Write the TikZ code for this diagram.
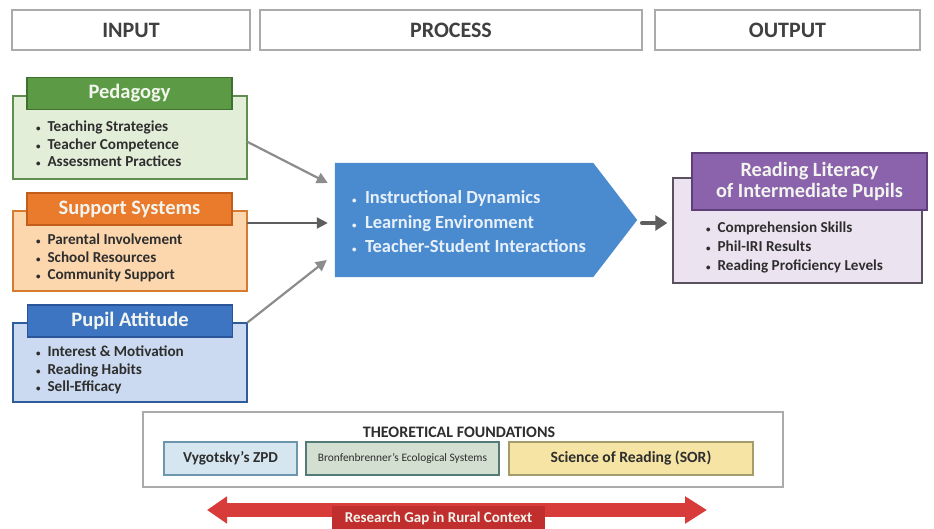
\documentclass[tikz,border=0pt]{standalone}
\usepackage{fontspec}
\setmainfont{Carlito}
\usetikzlibrary{arrows.meta}
\newcommand{\blt}{{\small\textbullet}\hspace{0.45em}}

\begin{document}
\begin{tikzpicture}
		[x=1pt,y=-1pt,line cap=round,
		%Styles
		stage box/.style={rectangle,draw=stagegray,line width=1.3pt,fill=white,minimum height=40,inner sep=0pt,font=\fontsize{22}{24}\selectfont\bfseries,text=stagetext},
		body box/.style={rectangle,line width=1.5pt,minimum width=234,inner sep=0pt},
		head box/.style={rectangle,line width=1.2pt,minimum width=205,minimum height=32,inner sep=0pt,text=headtext,font=\fontsize{20.5}{22}\selectfont\bfseries},
		item list/.style={anchor=west,align=left,inner sep=0pt,text=itemtext,font=\fontsize{15.2}{17.5}\selectfont\bfseries},
		feed arrow/.style={-{Triangle[length=11pt,width=11pt]},line width=2.2pt},
		found box/.style={rectangle,line width=1.2pt,minimum height=33,inner sep=0pt,text=itemtext,font=\fontsize{15.2}{17}\selectfont\bfseries}
		]
		
		%Colors
		\definecolor{stagegray}{HTML}{ABABAB}
		\definecolor{stagetext}{HTML}{404040}
		\definecolor{itemtext}{HTML}{2E2E2E}
		\definecolor{headtext}{HTML}{F2F5EE}
		\definecolor{feedgray}{HTML}{8C8C8C}
		\definecolor{feeddark}{HTML}{5E5E5E}
		\definecolor{pedfill}{HTML}{E3EED9}	\definecolor{peddraw}{HTML}{5F8E50}
		\definecolor{pedhead}{HTML}{5C9A46}	\definecolor{pedline}{HTML}{3E7030}
		\definecolor{supfill}{HTML}{FCD7AE}	\definecolor{supdraw}{HTML}{D87A30}
		\definecolor{suphead}{HTML}{EA7A2C}	\definecolor{supline}{HTML}{C25D1A}
		\definecolor{pupfill}{HTML}{CBDAF0}	\definecolor{pupdraw}{HTML}{2F5D9C}
		\definecolor{puphead}{HTML}{3E75C2}	\definecolor{pupline}{HTML}{2A559A}
		\definecolor{procblue}{HTML}{4A8BD0}
		\definecolor{proctext}{HTML}{E8F0FA}
		\definecolor{outfill}{HTML}{ECE3F0}	\definecolor{outdraw}{HTML}{5A5060}
		\definecolor{outhead}{HTML}{8B62AC}	\definecolor{outline}{HTML}{5E3F7A}
		\definecolor{vygfill}{HTML}{D5E6F1}	\definecolor{vygdraw}{HTML}{6D95AD}
		\definecolor{brofill}{HTML}{D3DFD0}	\definecolor{brodraw}{HTML}{547A78}
		\definecolor{sorfill}{HTML}{F6E4A5}	\definecolor{sordraw}{HTML}{A59C6C}
		\definecolor{gapred}{HTML}{D83C3A}
		\definecolor{gapdark}{HTML}{C02F2D}
		
		\useasboundingbox[fill=white] (0,0) rectangle (934,529);
		
		%Stages
		\node[stage box,minimum width=238] (input) at (131,30) {INPUT};
		\node[stage box,minimum width=382] (process) at (451,30) {PROCESS};
		\node[stage box,minimum width=265] (output) at (787.5,30) {OUTPUT};
		
		%Input boxes
		\node[body box,draw=peddraw,fill=pedfill,minimum height=83] (ped) at (130,137.5) {};
		\node[head box,draw=pedline,fill=pedhead] (pedh) at (129.5,93.5) {Pedagogy};
		\node[item list] (pedl) at (36,144) {\blt Teaching Strategies\\\blt Teacher Competence\\\blt Assessment Practices};
		
		\node[body box,draw=supdraw,fill=supfill,minimum height=80] (sup) at (130,251) {};
		\node[head box,draw=supline,fill=suphead] (suph) at (129.5,209) {Support Systems};
		\node[item list] (supl) at (36,258) {\blt Parental Involvement\\\blt School Resources\\\blt Community Support};
		
		\node[body box,draw=pupdraw,fill=pupfill,minimum height=79] (pup) at (130,362.5) {};
		\node[head box,draw=pupline,fill=puphead] (puph) at (130,321) {Pupil Attitude};
		\node[item list] (pupl) at (36,370) {\blt Interest \& Motivation\\\blt Reading Habits\\\blt Sell-Efficacy};
		
		%Process
		\node[minimum width=258,minimum height=114,inner sep=0pt] (proc) at (464,220) {};
		\fill[procblue] (proc.north west) -- (proc.north east) -- ([xshift=44pt]proc.east)
			-- (proc.south east) -- (proc.south west) -- cycle;
		\node[item list,text=proctext,font=\fontsize{18.5}{24.5}\selectfont\bfseries] (procl) at (352,222)
			{\blt Instructional Dynamics\\\blt Learning Environment\\\blt Teacher-Student Interactions};
		
		%Output
		\node[body box,draw=outdraw,fill=outfill,minimum width=249,minimum height=105] (out) at (797.5,230.5) {};
		\node[head box,draw=outline,fill=outhead,minimum width=235,minimum height=57,align=center,font=\fontsize{20.3}{21}\selectfont\bfseries] (outh) at (809.5,181.5) {Reading Literacy\\of Intermediate Pupils};
		\node[item list,font=\fontsize{15.2}{19}\selectfont\bfseries] (outl) at (706,247) {\blt Comprehension Skills\\\blt Phil-IRI Results\\\blt Reading Proficiency Levels};
		
		%Arrows
		\draw[feed arrow,feedgray] ([yshift=-4.5pt]ped.east) -- ([xshift=-7pt,yshift=37pt]proc.west);
		\draw[feed arrow,feeddark] ([yshift=28pt]sup.east) -- ([xshift=-7pt,yshift=-3pt]proc.west);
		\draw[feed arrow,feedgray] (pup.north east) -- ([xshift=-8pt,yshift=-40pt]proc.west);
		\draw[-{Triangle[length=12pt,width=15pt]},line width=4.5pt,feeddark] ([xshift=49pt,yshift=-3pt]proc.east) -- ([xshift=-5pt,yshift=7.5pt]out.west);
		
		%Theoretical foundations
		\node[rectangle,draw=stagegray,line width=1.3pt,fill=white,minimum width=640,minimum height=75] (found) at (463,449.5) {};
		\node[text=itemtext,font=\fontsize{16}{17}\selectfont\bfseries] (foundt) at (459,432) {THEORETICAL FOUNDATIONS};
		\node[found box,draw=vygdraw,fill=vygfill,minimum width=133] (vyg) at (230.5,458.5) {Vygotsky's ZPD};
		\node[found box,draw=brodraw,fill=brofill,minimum width=193,font=\fontsize{11.4}{13}\selectfont] (bro) at (402.5,458.5) {Bronfenbrenner's Ecological Systems};
		\node[found box,draw=sordraw,fill=sorfill,minimum width=244,font=\fontsize{15.6}{17}\selectfont\bfseries] (sor) at (631,458.5) {Science of Reading (SOR)};
		
		%Research gap
		\coordinate (gapL) at (207,510);
		\coordinate (gapR) at (707,510);
		\draw[{Triangle[length=20pt,width=26pt]}-{Triangle[length=22pt,width=26pt]},line width=14pt,line cap=butt,gapred] (gapL) -- (gapR);
		\node[rectangle,fill=gapdark,minimum width=213,minimum height=24,inner sep=0pt,text=headtext,font=\fontsize{15}{16}\selectfont\bfseries] (gap) at (438.5,518) {Research Gap in Rural Context};
	\end{tikzpicture}
\end{document}
